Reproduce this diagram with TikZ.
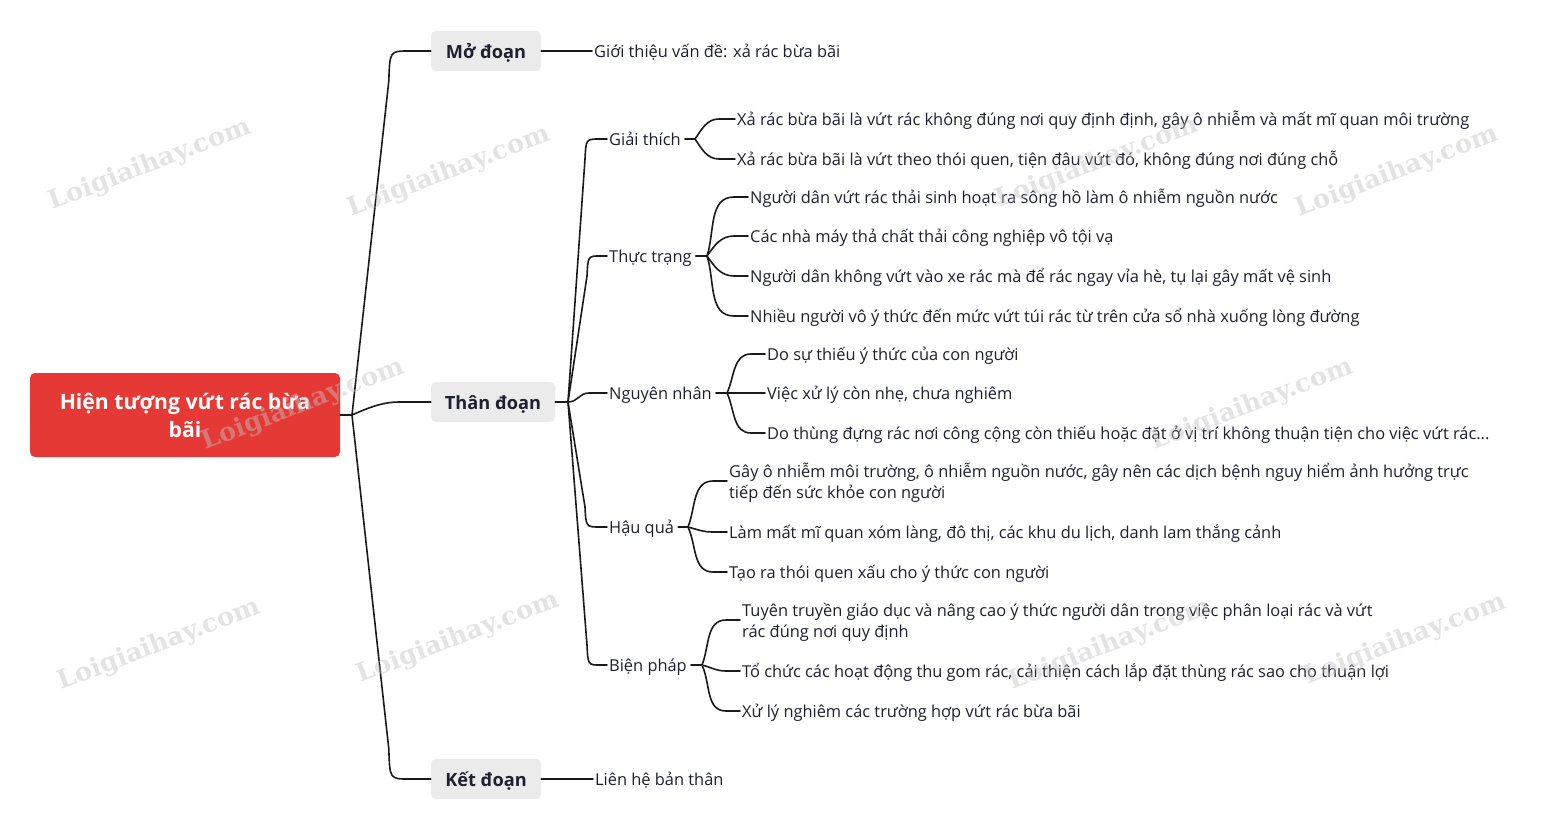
\documentclass[tikz,border=0pt]{standalone}
\usepackage{fontspec}
\setmainfont{Open Sans}
\newfontfamily\wmfont{DejaVu Serif}
\usetikzlibrary{calc}
\definecolor{txt}{HTML}{1E2030}
\definecolor{rootred}{HTML}{E53935}
\definecolor{boxgray}{HTML}{EBEBEB}
\definecolor{wmc}{RGB}{195,195,195}
\definecolor{linec}{HTML}{1A1A1A}
\begin{document}
\begin{tikzpicture}[x=1pt,y=-1pt,
  conn/.style={draw=linec, line width=1.6pt, line cap=round},
  leaf/.style={anchor=west, inner xsep=0pt, inner ysep=0pt, text height=16pt, text depth=3pt,
    font=\fontsize{16.4}{21}\selectfont, text=txt, align=left},
  leaftwo/.style={leaf, text height=37pt},
  sec/.style={fill=boxgray, rounded corners=5pt, font=\bfseries\fontsize{18.2}{20}\selectfont,
    text=txt, minimum height=40pt, inner sep=0pt, text height=17pt, text depth=2pt},
  rootbox/.style={fill=rootred, rounded corners=5pt, font=\bfseries\fontsize{21.2}{28}\selectfont,
    text=white, align=center, inner sep=0pt},
  wmk/.style={font=\wmfont\bfseries\fontsize{25.5}{25.5}\selectfont, text=wmc, opacity=0.45, rotate=21}
]
\useasboundingbox[fill=white] (0,0) rectangle (1542,822);

% root and sections
\node[rootbox, minimum width=310pt, minimum height=84pt] (R) at (185,415) {Hiện tượng vứt rác bừa\\bãi};
\node[sec, minimum width=110pt] (M) at (486,51) {Mở đoạn};
\node[sec, minimum width=124pt] (T) at (493,402) {Thân đoạn};
\node[sec, minimum width=110pt] (K) at (486,779) {Kết đoạn};

\node[leaf] (m1) at (594,51) {Giới thiệu vấn đề: xả rác bừa bãi};
\node[leaf] (k1) at (595,779) {Liên hệ bản thân};

% sub-topics
\node[leaf] (gt) at (609,139) {Giải thích};
\node[leaf] (tt) at (609,256) {Thực trạng};
\node[leaf] (nn) at (609,393) {Nguyên nhân};
\node[leaf] (hq) at (609,527) {Hậu quả};
\node[leaf] (bp) at (609,665) {Biện pháp};

% leaves
\node[leaf] (g1) at (737,119) {Xả rác bừa bãi là vứt rác không đúng nơi quy định định, gây ô nhiễm và mất mĩ quan môi trường};
\node[leaf] (g2) at (737,159) {Xả rác bừa bãi là vứt theo thói quen, tiện đâu vứt đó, không đúng nơi đúng chỗ};
\node[leaf] (t1) at (750,197) {Người dân vứt rác thải sinh hoạt ra sông hồ làm ô nhiễm nguồn nước};
\node[leaf] (t2) at (750,236) {Các nhà máy thả chất thải công nghiệp vô tội vạ};
\node[leaf] (t3) at (750,276) {Người dân không vứt vào xe rác mà để rác ngay vỉa hè, tụ lại gây mất vệ sinh};
\node[leaf] (t4) at (750,316) {Nhiều người vô ý thức đến mức vứt túi rác từ trên cửa sổ nhà xuống lòng đường};
\node[leaf] (n1) at (767,354) {Do sự thiếu ý thức của con người};
\node[leaf] (n2) at (767,393) {Việc xử lý còn nhẹ, chưa nghiêm};
\node[leaf] (n3) at (767,433) {Do thùng đựng rác nơi công cộng còn thiếu hoặc đặt ở vị trí không thuận tiện cho việc vứt rác...};
\node[leaftwo] (h1) at (729,481) {Gây ô nhiễm môi trường, ô nhiễm nguồn nước, gây nên các dịch bệnh nguy hiểm ảnh hưởng trực\\tiếp đến sức khỏe con người};
\node[leaf] (h2) at (729,532) {Làm mất mĩ quan xóm làng, đô thị, các khu du lịch, danh lam thắng cảnh};
\node[leaf] (h3) at (729,572) {Tạo ra thói quen xấu cho ý thức con người};
\node[leaftwo] (b1) at (742,620) {Tuyên truyền giáo dục và nâng cao ý thức người dân trong việc phân loại rác và vứt\\rác đúng nơi quy định};
\node[leaf] (b2) at (742,671) {Tổ chức các hoạt động thu gom rác, cải thiện cách lắp đặt thùng rác sao cho thuận lợi};
\node[leaf] (b3) at (742,711) {Xử lý nghiêm các trường hợp vứt rác bừa bãi};

% junctions
\coordinate (jR) at (352,415);
\coordinate (jT) at (568,402);
\coordinate (jG) at (695,139);
\coordinate (jTT) at (707,256);
\coordinate (jN) at (727,393);
\coordinate (jH) at (688,527);
\coordinate (jB) at (702,665);

% root connectors
\draw[conn] (R.east) -- (jR);
\draw[conn] (jR) -- ([xshift=-42pt,yshift=-30pt]M.west) .. controls ([xshift=-41pt]M.west) .. ([xshift=-22pt]M.west) -- (M.west);
\draw[conn] (jR) .. controls +(20,-9) and +(-14,0) .. ([xshift=-32pt]T.west) -- (T.west);
\draw[conn] (jR) -- ([xshift=-42pt,yshift=30pt]K.west) .. controls ([xshift=-41pt]K.west) .. ([xshift=-22pt]K.west) -- (K.west);
\draw[conn] (M.east) -- ([xshift=-2pt]m1.west);
\draw[conn] (K.east) -- ([xshift=-2pt]k1.west);

% body connectors
\draw[conn] (T.east) -- (jT);
\draw[conn] (jT) -- ([xshift=-24pt,yshift=-20pt]gt.west) .. controls ([xshift=-23pt]gt.west) .. ([xshift=-9pt]gt.west) -- ([xshift=-2pt]gt.west);
\draw[conn] (jT) -- ([xshift=-22pt,yshift=-20pt]tt.west) .. controls ([xshift=-21pt]tt.west) .. ([xshift=-9pt]tt.west) -- ([xshift=-2pt]tt.west);
\draw[conn] (jT) .. controls +(10,0) and +(-10,0) .. ([xshift=-20pt]nn.west) -- ([xshift=-2pt]nn.west);
\draw[conn] (jT) -- ([xshift=-24pt,yshift=20pt]hq.west) .. controls ([xshift=-23pt]hq.west) .. ([xshift=-9pt]hq.west) -- ([xshift=-2pt]hq.west);
\draw[conn] (jT) -- ([xshift=-22pt,yshift=20pt]bp.west) .. controls ([xshift=-21pt]bp.west) .. ([xshift=-9pt]bp.west) -- ([xshift=-2pt]bp.west);

% sub-topic stubs
\draw[conn] ([xshift=4pt]gt.east) -- (jG);
\draw[conn] ([xshift=4pt]tt.east) -- (jTT);
\draw[conn] ([xshift=4pt]nn.east) -- (jN);
\draw[conn] ([xshift=4pt]hq.east) -- (jH);
\draw[conn] ([xshift=4pt]bp.east) -- (jB);

% leaf connectors
\draw[conn] (jG) to[out=55,in=180] ([xshift=-18pt]g1.west) -- ([xshift=-2pt]g1.west);
\draw[conn] (jG) to[out=-55,in=180] ([xshift=-18pt]g2.west) -- ([xshift=-2pt]g2.west);
\draw[conn] (jTT) to[out=72,in=180] ([xshift=-16pt]t1.west) -- ([xshift=-2pt]t1.west);
\draw[conn] (jTT) to[out=55,in=180] ([xshift=-16pt]t2.west) -- ([xshift=-2pt]t2.west);
\draw[conn] (jTT) to[out=-55,in=180] ([xshift=-16pt]t3.west) -- ([xshift=-2pt]t3.west);
\draw[conn] (jTT) to[out=-72,in=180] ([xshift=-16pt]t4.west) -- ([xshift=-2pt]t4.west);
\draw[conn] (jN) to[out=65,in=180] ([xshift=-16pt]n1.west) -- ([xshift=-2pt]n1.west);
\draw[conn] (jN) -- ([xshift=-2pt]n2.west);
\draw[conn] (jN) to[out=-65,in=180] ([xshift=-16pt]n3.west) -- ([xshift=-2pt]n3.west);
\draw[conn] (jH) to[out=68,in=180] ([xshift=-16pt]h1.west) -- ([xshift=-2pt]h1.west);
\draw[conn] (jH) to[out=-15,in=180] ([xshift=-16pt]h2.west) -- ([xshift=-2pt]h2.west);
\draw[conn] (jH) to[out=-65,in=180] ([xshift=-16pt]h3.west) -- ([xshift=-2pt]h3.west);
\draw[conn] (jB) to[out=68,in=180] ([xshift=-16pt]b1.west) -- ([xshift=-2pt]b1.west);
\draw[conn] (jB) to[out=-15,in=180] ([xshift=-16pt]b2.west) -- ([xshift=-2pt]b2.west);
\draw[conn] (jB) to[out=-65,in=180] ([xshift=-16pt]b3.west) -- ([xshift=-2pt]b3.west);

% watermarks
\foreach \p [count=\i] in {(150,165),(449,172),(1097,163),(1397,172),(303,405),(1252,405),(159,645),(458,638),(1110,645),(1405,640)}
  \node[wmk] (wm\i) at \p {Loigiaihay.com};
\end{tikzpicture}
\end{document}
